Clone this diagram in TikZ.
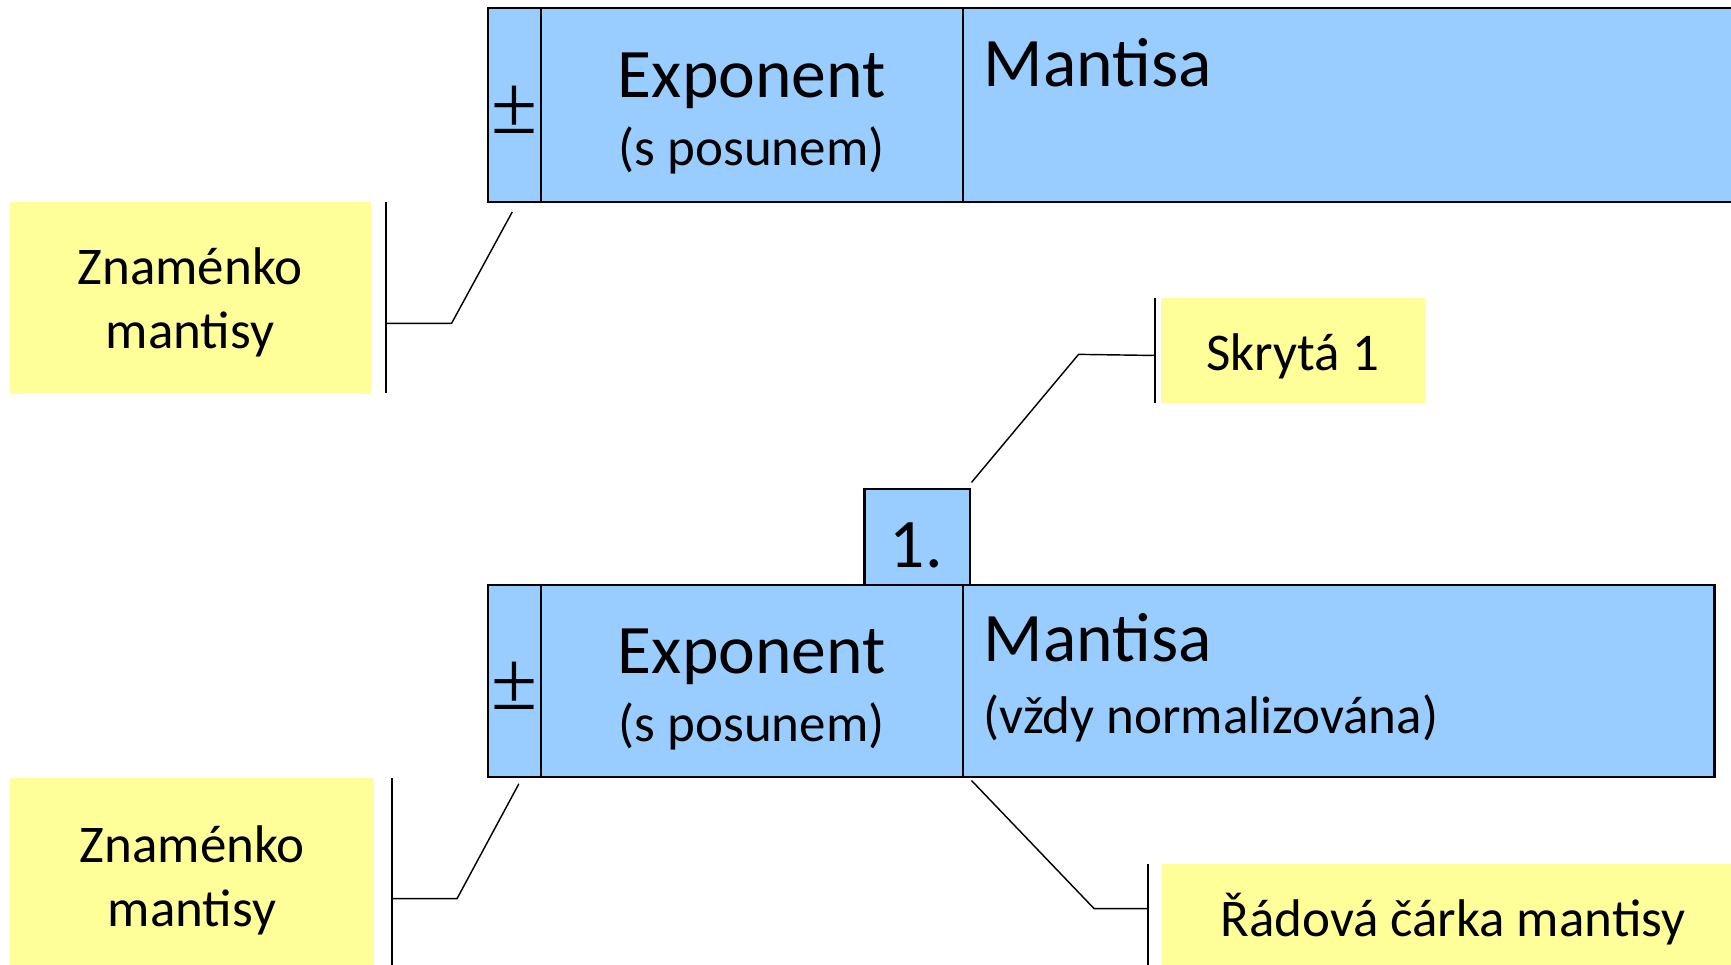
\documentclass[tikz,border=0pt]{standalone}
\usepackage{fontspec}
\setmainfont{Carlito}
\newfontfamily\signfont{Liberation Serif}
\definecolor{cellblue}{HTML}{99CCFF}
\definecolor{noteyellow}{HTML}{FFFF99}
\newcommand{\bigtxt}{\fontsize{63}{63}\selectfont}
\newcommand{\smalltxt}{\fontsize{48}{48}\selectfont}
\newcommand{\signtxt}{\signfont\fontsize{76}{76}\selectfont}
\begin{document}
\begin{tikzpicture}[x=1pt,y=-1pt,
  cell/.style={draw=black,line width=2pt,fill=cellblue,inner sep=0pt,outer sep=0pt,anchor=north west},
  note/.style={fill=noteyellow,inner sep=0pt,outer sep=0pt,anchor=north west},
  lbl/.style={inner sep=0pt,anchor=base},
  lbll/.style={inner sep=0pt,anchor=base west},
  sign/.style={inner sep=0pt,anchor=base},
  bar/.style={line width=2pt},
  lead/.style={line width=1.3pt}]
\clip (0,0) rectangle (1568,874);
\fill[white] (0,0) rectangle (1568,874);

% --- upper format: sign, exponent, mantissa ---
\node[cell,minimum width=700,minimum height=176] (m1) at (872,7) {};
\node[cell,minimum width=382,minimum height=176] (e1) at (490,7) {};
\node[cell,minimum width=48,minimum height=176] (s1) at (442,7) {};
\node[sign] (s1t) at (466,121) {\signtxt ±};
\node[lbl] (e1t) at (681,88) {\bigtxt Exponent};
\node[lbl] (e1u) at (681,150) {\smalltxt (s posunem)};
\node[lbll] (m1t) at (891,78) {\bigtxt Mantisa};

% note: sign of the upper mantissa
\node[note,minimum width=327,minimum height=174] (n1) at (9,183) {};
\node[lbl] at (172,258) {\smalltxt Znaménko};
\node[lbl] at (172,316) {\smalltxt mantisy};
\coordinate (b1a) at (350,183);
\coordinate (b1b) at (350,356);
\draw[bar] (b1a) -- (b1b);
\coordinate (k1) at (409,293);
\coordinate (p1) at (464,192);
\draw[lead] (b1a |- k1) -- (k1) -- (p1);

% --- hidden bit ---
\node[cell,minimum width=96,minimum height=87] (h) at (783,443) {};
\node[lbl] (ht) at (830,514) {\bigtxt 1.};

\node[note,minimum width=239,minimum height=95] (n2) at (1052,270) {};
\node[lbl] at (1171,336) {\smalltxt Skrytá 1};
\coordinate (b2a) at (1046,270);
\coordinate (b2b) at (1046,365);
\draw[bar] (b2a) -- (b2b);
\coordinate (k2) at (977,321);
\coordinate (p2) at (880,437);
\draw[lead] (1046,322) -- (k2) -- (p2);

% --- lower format: sign, exponent, normalised mantissa ---
\node[cell,minimum width=681,minimum height=174] (m2) at (872,530) {};
\node[cell,minimum width=382,minimum height=174] (e2) at (490,530) {};
\node[cell,minimum width=48,minimum height=174] (s2) at (442,530) {};
\node[sign] (s2t) at (466,643) {\signtxt ±};
\node[lbl] (e2t) at (681,610) {\bigtxt Exponent};
\node[lbl] (e2u) at (681,672) {\smalltxt (s posunem)};
\node[lbll] (m2t) at (891,599) {\bigtxt Mantisa};
\node[lbll] (m2u) at (891,664) {\smalltxt (vždy normalizována)};

% note: sign of the lower mantissa
\node[note,minimum width=330,minimum height=175] (n3) at (9,705) {};
\node[lbl] at (174,781) {\smalltxt Znaménko};
\node[lbl] at (174,839) {\smalltxt mantisy};
\coordinate (b3a) at (355,705);
\coordinate (b3b) at (355,874);
\draw[bar] (b3a) -- (b3b);
\coordinate (k3) at (414,814);
\coordinate (p3) at (470,710);
\draw[lead] (b3a |- k3) -- (k3) -- (p3);

% note: radix point of the mantissa
\node[note,minimum width=520,minimum height=95] (n4) at (1053,783) {};
\node[lbl] at (1316,848) {\smalltxt Řádová čárka mantisy};
\coordinate (b4a) at (1040,783);
\coordinate (b4b) at (1040,874);
\draw[bar] (b4a) -- (b4b);
\coordinate (k4) at (991,823);
\coordinate (p4) at (880,707);
\draw[lead] (b4a |- k4) -- (k4) -- (p4);
\end{tikzpicture}
\end{document}
